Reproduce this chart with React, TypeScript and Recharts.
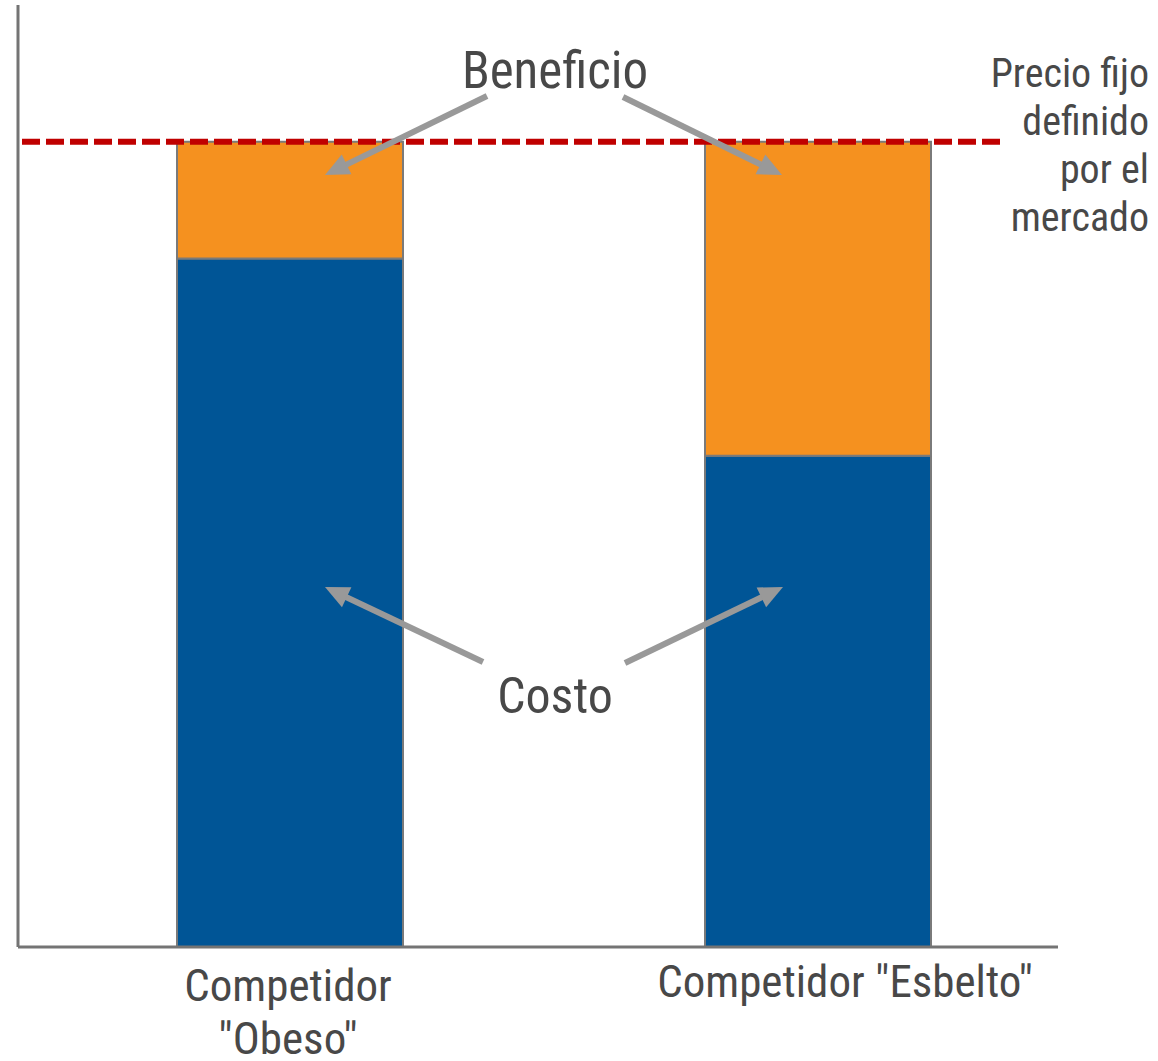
import React from 'react';
import { BarChart, Bar, XAxis, YAxis, ReferenceLine } from 'recharts';

const categories = ['Competidor "Obeso"', 'Competidor "Esbelto"'];
const tickLines = [['Competidor', '"Obeso"'], ['Competidor "Esbelto"']];
const costValues = [85.5, 61];
const profitValues = [14.5, 39];
const marketPrice = 100;
const priceLines = ['Precio fijo', 'definido', 'por el', 'mercado'];

const data = categories.map((name, i) => ({
  name,
  cost: costValues[i],
  profit: profitValues[i],
}));

const FONT = '"Roboto Condensed", "Liberation Sans Narrow", "DejaVu Sans Condensed", Roboto, sans-serif';
const TEXT = '#484848';
const ARROW = '#999999';

const CategoryTick = (props: any) => {
  const { x, y, payload } = props;
  const lines = tickLines[payload.index] || [payload.value];
  const dx = lines.length === 1 ? 27 : -2;
  return (
    <g transform={`translate(${x + dx},${y})`}>
      <text textAnchor="middle" fill={TEXT} fontSize={45} fontFamily={FONT} style={{ fontStretch: 'condensed' }}>
        {lines.map((l, i) => (
          <tspan key={i} x={0} y={(lines.length === 1 ? 42 : 46) + i * 53}>
            {l}
          </tspan>
        ))}
      </text>
    </g>
  );
};

const Arrow = ({ x1, y1, x2, y2 }: { x1: number; y1: number; x2: number; y2: number }) => {
  const len = Math.hypot(x2 - x1, y2 - y1);
  const ux = (x2 - x1) / len;
  const uy = (y2 - y1) / len;
  const head = 24;
  const half = 11;
  const bx = x2 - ux * head;
  const by = y2 - uy * head;
  return (
    <g>
      <line x1={x1} y1={y1} x2={bx + ux * 2} y2={by + uy * 2} stroke={ARROW} strokeWidth={6} />
      <polygon
        points={`${x2},${y2} ${bx - uy * half},${by + ux * half} ${bx + uy * half},${by - ux * half}`}
        fill={ARROW}
      />
    </g>
  );
};

export default function App() {
  return (
    <div style={{ position: 'absolute', left: 0, top: 0, width: 1158, height: 1061, background: '#fff' }}>
      <BarChart
        width={1158}
        height={1061}
        data={data}
        margin={{ top: 5, right: 100, bottom: 0, left: 16 }}
        barSize={226}
      >
        <XAxis
          dataKey="name"
          height={114}
          padding={{ left: 8, right: -24 }}
          tickLine={false}
          axisLine={{ stroke: '#747474', strokeWidth: 3 }}
          tick={<CategoryTick />}
          interval={0}
        />
        <YAxis
          width={2}
          domain={[0, 117]}
          tick={false}
          tickLine={false}
          axisLine={{ stroke: '#747474', strokeWidth: 3 }}
        />
        <Bar dataKey="cost" stackId="a" fill="#005596" stroke="#7a7a7a" strokeWidth={2} isAnimationActive={false} />
        <Bar dataKey="profit" stackId="a" fill="#F5911F" stroke="#7a7a7a" strokeWidth={2} isAnimationActive={false} />
        <ReferenceLine
          y={marketPrice}
          stroke="#C00000"
          strokeWidth={6}
          strokeDasharray="18 6"
          shape={(p: any) => (
            <line x1={p.x1 + 4} y1={p.y1} x2={1002} y2={p.y2} stroke="#C00000" strokeWidth={6} strokeDasharray="18 6" />
          )}
        />
      </BarChart>
      <svg
        width={1158}
        height={1061}
        style={{ position: 'absolute', left: 0, top: 0, pointerEvents: 'none' }}
      >
        <Arrow x1={487} y1={96} x2={325} y2={175} />
        <Arrow x1={623} y1={97} x2={782} y2={175} />
        <Arrow x1={483} y1={662} x2={325} y2={587} />
        <Arrow x1={625} y1={663} x2={783} y2={587} />
        <text x={555} y={88} textAnchor="middle" fill={TEXT} fontSize={51} fontFamily={FONT} style={{ fontStretch: 'condensed' }}>
          Beneficio
        </text>
        <text x={555} y={713} textAnchor="middle" fill={TEXT} fontSize={50} fontFamily={FONT} style={{ fontStretch: 'condensed' }}>
          Costo
        </text>
        <text textAnchor="end" fill={TEXT} fontSize={40} fontFamily={FONT} style={{ fontStretch: 'condensed' }}>
          {priceLines.map((l, i) => (
            <tspan key={i} x={1149} y={87 + i * 48}>
              {l}
            </tspan>
          ))}
        </text>
      </svg>
    </div>
  );
}
